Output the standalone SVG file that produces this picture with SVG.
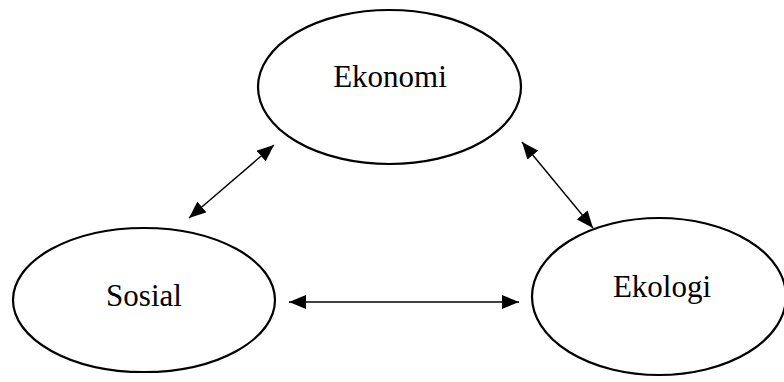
<svg xmlns="http://www.w3.org/2000/svg" width="784" height="382" viewBox="0 0 784 382">
<style>
.node{fill:#fff;stroke:#000;stroke-width:2.2}
.lbl{font-family:"Liberation Serif","Times New Roman",serif;font-size:31px;fill:#000;text-anchor:middle}
.conn{stroke:#000;stroke-width:1.4;fill:none;marker-start:url(#ah);marker-end:url(#ah)}
</style>
<defs>
<marker id="ah" viewBox="0 0 17 14" refX="17" refY="7" markerWidth="17" markerHeight="14" markerUnits="userSpaceOnUse" orient="auto-start-reverse">
<path d="M0,0 L17,7 L0,14 z" fill="#000"/>
</marker>
</defs>
<rect width="784" height="382" fill="#fff"/>
<g id="ekonomi">
<ellipse class="node" cx="389.5" cy="87" rx="131.5" ry="77"/>
<text class="lbl" x="390" y="87">Ekonomi</text>
</g>
<g id="sosial">
<ellipse class="node" cx="144" cy="300" rx="131" ry="72"/>
<text class="lbl" x="144" y="306">Sosial</text>
</g>
<g id="ekologi">
<ellipse class="node" cx="659" cy="296.5" rx="127" ry="78.5"/>
<text class="lbl" x="662" y="297">Ekologi</text>
</g>
<g id="connectors">
<line class="conn" x1="189" y1="218" x2="274" y2="145"/>
<line class="conn" x1="522" y1="142" x2="593" y2="228"/>
<line class="conn" x1="289" y1="302" x2="519" y2="302"/>
</g>
</svg>
